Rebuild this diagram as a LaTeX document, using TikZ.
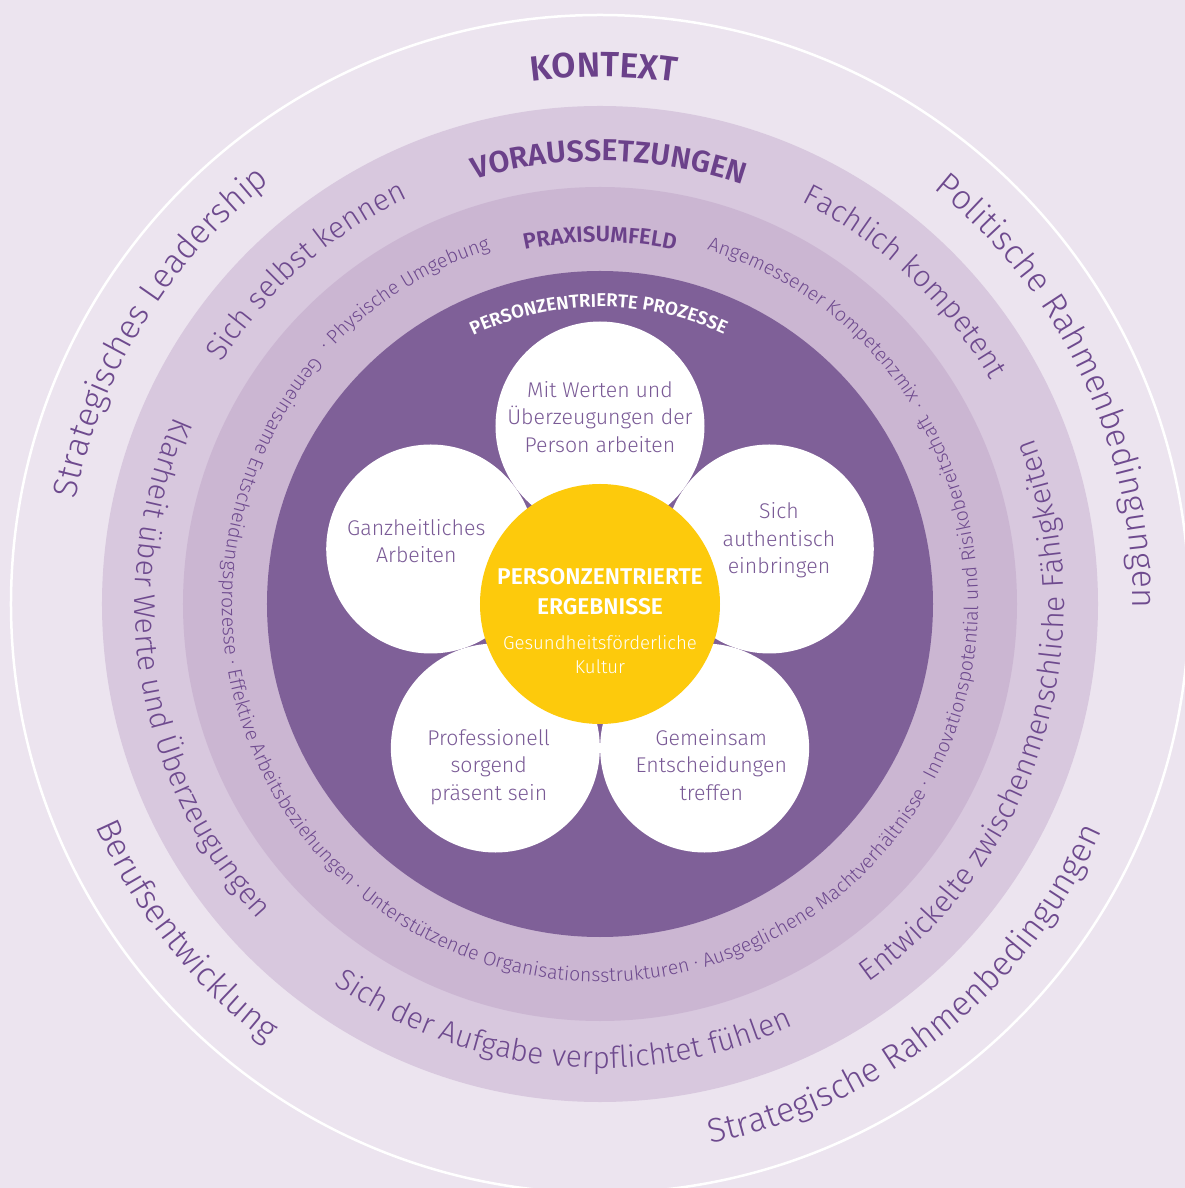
\documentclass[tikz,border=0pt]{standalone}
\usepackage{fontspec}
\setmainfont{Fira Sans}
\newfontfamily\lt{Fira Sans Light}
\newfontfamily\sbfont{Fira Sans SemiBold}
\usetikzlibrary{decorations.text}
\definecolor{bgc}{HTML}{ECE4EF}
\definecolor{bandA}{HTML}{D8C8DE}
\definecolor{bandB}{HTML}{CBB6D2}
\definecolor{darkp}{HTML}{7F6098}
\definecolor{yel}{HTML}{FDCA0C}
\definecolor{ttl}{HTML}{6B418A}
\definecolor{txt}{HTML}{6E4A8E}
\definecolor{ptxt}{HTML}{7A5A96}
\newcommand\cwtext[5]{\path[decorate,decoration={text along path,text align=center,text={|#3|#4}}] (#2+#5:#1) arc[start angle=#2+#5,end angle=#2-#5,radius=#1];}
\newcommand\ccwtext[5]{\path[decorate,decoration={text along path,text align=center,text={|#3|#4}}] (#2-#5:#1) arc[start angle=#2-#5,end angle=#2+#5,radius=#1];}
\newcommand\outerf{\color{txt}\lt\fontsize{34}{40}\selectfont}
\newcommand\bandAf{\color{txt}\lt\fontsize{30}{36}\selectfont}
\newcommand\bandBf{\color{txt}\lt\fontsize{19.5}{24}\selectfont}
\tikzset{
  petaltext/.style={text=ptxt, font=\lt\fontsize{21.3}{27.5}\selectfont, align=center, inner sep=0pt},
  yelbold/.style={text=white, font=\sbfont\fontsize{22.8}{28}\selectfont, anchor=base, inner sep=0pt},
  yellight/.style={text=white, font=\lt\fontsize{18.6}{24}\selectfont, anchor=base, inner sep=0pt}
}
\begin{document}
\begin{tikzpicture}[x=1pt,y=1pt]
\useasboundingbox (-600,-584) rectangle (585,604);
\fill[bgc] (-600,-584) rectangle (585,604);
\draw[white, line width=2.5pt] (0,0) circle[radius=589pt];
\fill[bandA] (0,0) circle[radius=498pt];
\fill[bandB] (0,0) circle[radius=417pt];
\fill[darkp] (0,0) circle[radius=333pt];
% petals
\foreach \a in {90,18,-54,-126,162} \fill[white] (\a:178pt) circle[radius=104.5pt];
\fill[yel] (0,0) circle[radius=120pt];
% petal texts
\node[petaltext] (pt1) at (0,187) {Mit Werten und\\Überzeugungen der\\Person arbeiten};
\node[petaltext] (pt2) at (179,63.5) {Sich\\authentisch\\einbringen};
\node[petaltext] (pt3) at (-183.7,63) {Ganzheitliches\\Arbeiten};
\node[petaltext] (pt4) at (-111.3,-163) {Professionell\\sorgend\\präsent sein};
\node[petaltext] (pt5) at (111.3,-160.6) {Gemeinsam\\Entscheidungen\\treffen};
% centre texts
\node[yelbold] (y1) at (0,19) {PERSONZENTRIERTE};
\node[yelbold] (y2) at (0,-11) {ERGEBNISSE};
\node[yellight] (y3) at (0,-46) {Gesundheitsförderliche};
\node[yellight] (y4) at (0,-70) {Kultur};
% outer ring
\cwtext{527pt}{89.6}{\color{ttl}\sbfont\fontsize{35}{40}\selectfont}{KONTEXT}{60}
\cwtext{535pt}{148.4}{\outerf}{Strategisches Leadership}{60}
\cwtext{533pt}{25.4}{\outerf}{Politische Rahmenbedingungen}{60}
\ccwtext{551pt}{-51.4}{\outerf}{Strategische Rahmenbedingungen}{60}
\ccwtext{551pt}{218.3}{\outerf}{Berufsentwicklung}{60}
% band A
\cwtext{443pt}{88.8}{\color{ttl}\sbfont\fontsize{30.3}{34}\selectfont}{VORAUSSETZUNGEN}{60}
\cwtext{449pt}{131.4}{\bandAf}{Sich selbst kennen}{60}
\cwtext{450pt}{46.6}{\bandAf}{Fachlich kompetent}{60}
\ccwtext{465pt}{189.5}{\bandAf}{Klarheit über Werte und Überzeugungen}{70}
\ccwtext{464pt}{-16.8}{\bandAf}{Entwickelte zwischenmenschliche Fähigkeiten}{70}
\ccwtext{464pt}{264.8}{\bandAf}{Sich der Aufgabe verpflichtet fühlen}{70}
% band B
\cwtext{362pt}{90}{\color{ttl}\sbfont\fontsize{22.2}{26}\selectfont}{PRAXISUMFELD}{50}
\cwtext{371pt}{122.2}{\bandBf}{· Physische Umgebung}{50}
\cwtext{370pt}{52.3}{\bandBf}{Angemessener Kompetenzmix ·}{50}
\ccwtext{378pt}{264.6}{\bandBf}{Gemeinsame Entscheidungsprozesse · Effektive Arbeitsbeziehungen · Unterstützende Organisationsstrukturen · Ausgeglichene Machtverhältnisse · Innovationspotential und Risikobereitschaft}{150}
% dark disc
\cwtext{297pt}{90.3}{\color{white}\sbfont\fontsize{18.6}{23}\selectfont}{PERSONZENTRIERTE PROZESSE}{60}
\end{tikzpicture}
\end{document}
